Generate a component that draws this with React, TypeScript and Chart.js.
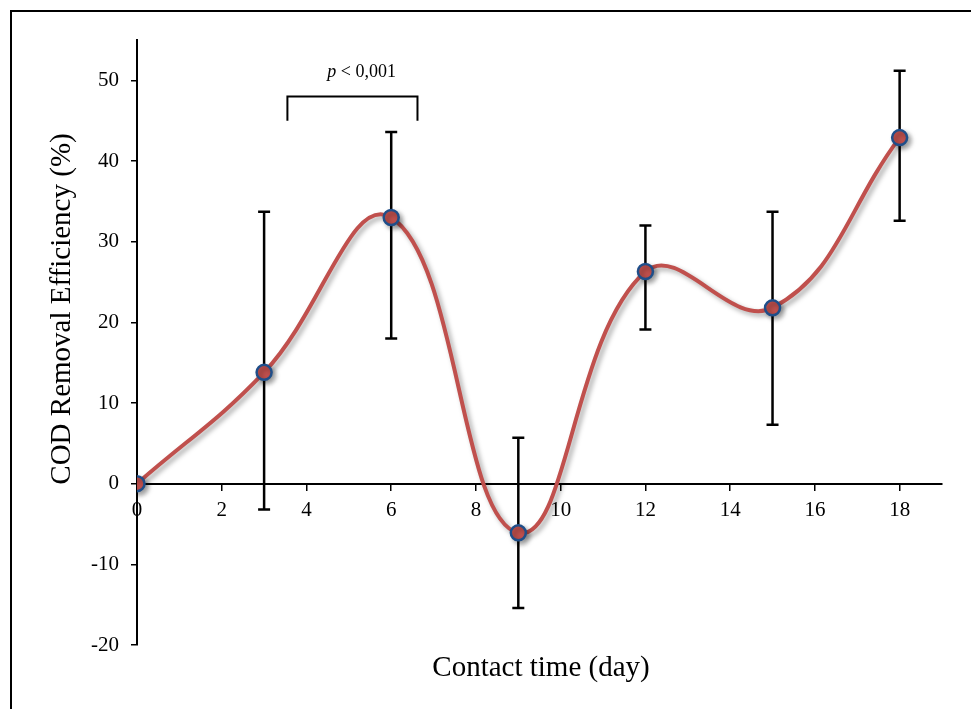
import React, { useEffect, useRef } from "react";
import { Chart, registerables } from "chart.js";

Chart.register(...registerables);

// ---- data ----
const days = [0, 3, 6, 9, 12, 15, 18];
const codRemoval = [0, 13.8, 33.0, -6.1, 26.3, 21.8, 42.9];
const errUpper = [0, 33.7, 43.6, 5.7, 32.0, 33.7, 51.2];
const errLower = [0, -3.2, 18.0, -15.4, 19.1, 7.3, 32.6];

const xTitle = "Contact time (day)";
const yTitle = "COD Removal Efficiency (%)";
const pLabel = "< 0,001";
const bracketX = [3.55, 6.62];
const bracketTop = 48.0;
const bracketBottom = 45.0;
const pLabelPos = { x: 5.3, y: 51.0 };

const SERIF = "'Liberation Serif', 'Times New Roman', serif";

const decorPlugin = {
  id: "decor",
  beforeDatasetsDraw(chart: any) {
    const { ctx, scales } = chart;
    const xs = scales.x;
    const ys = scales.y;
    ctx.save();
    ctx.strokeStyle = "#000";
    ctx.lineWidth = 2.5;
    days.forEach((d, i) => {
      if (errUpper[i] === errLower[i]) return;
      const px = xs.getPixelForValue(d);
      const top = ys.getPixelForValue(errUpper[i]);
      const bot = ys.getPixelForValue(errLower[i]);
      ctx.beginPath();
      ctx.moveTo(px, top);
      ctx.lineTo(px, bot);
      ctx.moveTo(px - 6, top);
      ctx.lineTo(px + 6, top);
      ctx.moveTo(px - 6, bot);
      ctx.lineTo(px + 6, bot);
      ctx.stroke();
    });
    ctx.restore();
  },
  beforeDatasetDraw(chart: any) {
    const ctx = chart.ctx;
    ctx.save();
    ctx.shadowColor = "rgba(0,0,0,0.35)";
    ctx.shadowBlur = 5;
    ctx.shadowOffsetX = 3;
    ctx.shadowOffsetY = 3;
  },
  afterDatasetDraw(chart: any) {
    chart.ctx.restore();
  },
  afterDraw(chart: any) {
    const { ctx, scales } = chart;
    const xs = scales.x;
    const ys = scales.y;
    ctx.save();
    // outer frame
    ctx.strokeStyle = "#000";
    ctx.lineWidth = 2;
    ctx.strokeRect(11, 11, 1000, 1000);

    // bracket
    const bx1 = xs.getPixelForValue(bracketX[0]);
    const bx2 = xs.getPixelForValue(bracketX[1]);
    const by1 = ys.getPixelForValue(bracketTop);
    const by2 = ys.getPixelForValue(bracketBottom);
    ctx.lineWidth = 2;
    ctx.beginPath();
    ctx.moveTo(bx1, by2);
    ctx.lineTo(bx1, by1);
    ctx.lineTo(bx2, by1);
    ctx.lineTo(bx2, by2);
    ctx.stroke();

    // p label
    ctx.fillStyle = "#000";
    ctx.textBaseline = "middle";
    const px = xs.getPixelForValue(pLabelPos.x);
    const py = ys.getPixelForValue(pLabelPos.y);
    ctx.font = `italic 18px ${SERIF}`;
    const wP = ctx.measureText("p ").width;
    ctx.font = `18px ${SERIF}`;
    const wR = ctx.measureText(pLabel).width;
    const start = px - (wP + wR) / 2;
    ctx.textAlign = "left";
    ctx.font = `italic 18px ${SERIF}`;
    ctx.fillText("p ", start, py);
    ctx.font = `18px ${SERIF}`;
    ctx.fillText(pLabel, start + wP, py);

    // axis titles
    ctx.font = `29px ${SERIF}`;
    ctx.textAlign = "center";
    ctx.fillText(xTitle, 541, 668);
    ctx.translate(62, 309);
    ctx.rotate(-Math.PI / 2);
    ctx.fillText(yTitle, 0, 0);
    ctx.restore();
  },
};

export default function App() {
  const ref = useRef<HTMLCanvasElement>(null);
  useEffect(() => {
    if (!ref.current) return;
    const chart = new Chart(ref.current, {
      type: "line",
      data: {
        datasets: [
          {
            data: days.map((d, i) => ({ x: d, y: codRemoval[i] })),
            borderColor: "#C0504D",
            borderWidth: 4,
            tension: 0.42,
            pointRadius: 7.5,
            pointBorderWidth: 2.5,
            pointBackgroundColor: "#C0504D",
            pointBorderColor: "#1F4E89",
            fill: false,
          },
        ],
      },
      options: {
        responsive: false,
        animation: false,
        layout: { padding: { left: 0, top: 40, right: 29, bottom: 64 } },
        plugins: {
          legend: { display: false },
          tooltip: { enabled: false },
        },
        scales: {
          x: {
            type: "linear",
            min: 0,
            max: 19,
            position: { y: 0 } as any,
            afterBuildTicks: (s: any) => {
              s.ticks = s.ticks.filter((t: any) => t.value <= 18);
            },
            ticks: {
              stepSize: 2,
              color: "#000",
              padding: 8,
              font: { family: SERIF, size: 21 },
            },
            grid: {
              display: true,
              drawOnChartArea: false,
              drawTicks: true,
              tickLength: 6,
              color: "#000",
              lineWidth: 1.5,
            },
            border: { display: true, color: "#000", width: 2 },
          },
          y: {
            type: "linear",
            min: -20,
            max: 55,
            afterBuildTicks: (s: any) => {
              s.ticks = s.ticks.filter((t: any) => t.value <= 50);
            },
            afterFit: (s: any) => {
              s.width = 137;
            },
            ticks: {
              stepSize: 10,
              color: "#000",
              padding: 12,
              font: { family: SERIF, size: 21 },
            },
            grid: {
              display: true,
              drawOnChartArea: false,
              drawTicks: true,
              tickLength: 6,
              color: "#000",
              lineWidth: 1.5,
            },
            border: { display: true, color: "#000", width: 2 },
          },
        },
      },
      plugins: [decorPlugin],
    });
    return () => chart.destroy();
  }, []);
  return (
    <div style={{ position: "fixed", left: 0, top: 0, width: 971, height: 709, background: "#fff" }}>
      <canvas ref={ref} width={971} height={709} style={{ display: "block" }} />
    </div>
  );
}
